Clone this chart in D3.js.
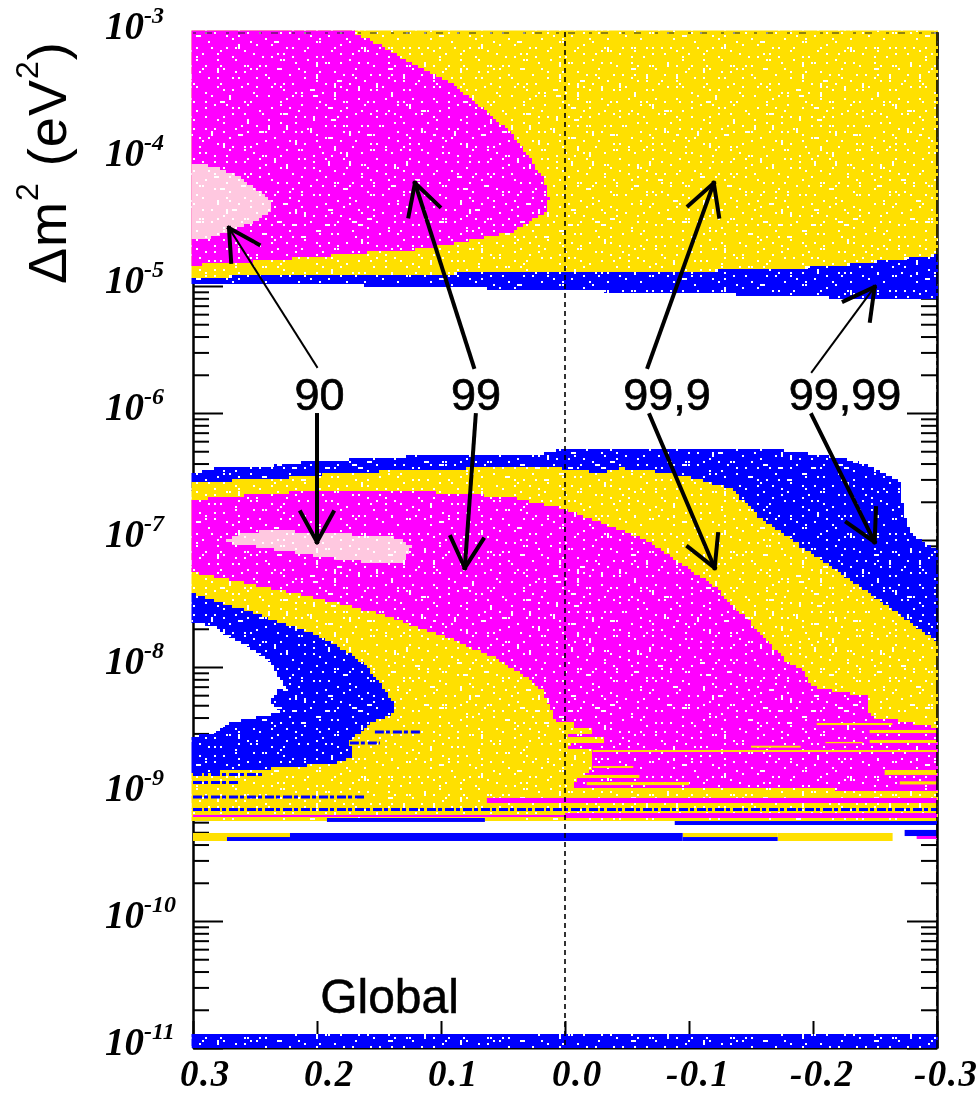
<!DOCTYPE html>
<html>
<head>
<meta charset="utf-8">
<script src="https://cdn.jsdelivr.net/npm/d3@7"></script>
<style>
body { margin: 0; background: #fff; }
svg { display: block; filter: blur(0.45px); }
</style>
</head>
<body>
<div id="chart"></div>
<script>
const width = 979;
const height = 1095;

// regions are [x value, log10(dm2)] outlines
const xTicks = [0.3, 0.2, 0.1, 0.0, -0.1, -0.2, -0.3];
const xTickLabels = ['0.3', '0.2', '0.1', '0.0', '-0.1', '-0.2', '-0.3'];
const yDecades = [-3, -4, -5, -6, -7, -8, -9, -10, -11];

const yellowUpper = [[0.3, -3], [-0.3, -3], [-0.3, -4.756], [-0.2642, -4.795], [-0.2239, -4.835], [-0.1618, -4.874],
  [0, -4.89], [0.3, -4.929]];
const blueUpper = [[0.3, -4.929], [0, -4.89], [-0.1618, -4.874], [-0.2239, -4.835], [-0.2642, -4.795], [-0.3, -4.756],
  [-0.3, -5.094], [-0.2239, -5.094], [-0.1586, -5.071], [-0.0442, -5.047], [0, -5.031], [0.1227, -5.008], [0.1735, -4.992], [0.3, -4.992]];
const magentaUpper = [[0.3, -3], [0.1735, -3], [0.1493, -3.102], [0.1227, -3.26], [0.0953, -3.394], [0.0687, -3.598],
  [0.0421, -3.827], [0.026, -4.031], [0.0163, -4.189], [0.0131, -4.323], [0.0147, -4.417], [0.0284, -4.504], [0.0445, -4.583],
  [0.0687, -4.622], [0.0953, -4.677], [0.1227, -4.717], [0.1654, -4.74], [0.2033, -4.772], [0.2565, -4.811], [0.3, -4.835]];
const pinkUpper = [[0.3, -4.031], [0.2807, -4.071], [0.2645, -4.142], [0.2484, -4.244], [0.2379, -4.339], [0.2379, -4.425],
  [0.25, -4.496], [0.2645, -4.543], [0.2807, -4.614], [0.3, -4.638]];

const blueMiddle = [[0.3, -6.472], [0.2839, -6.433], [0.2565, -6.433], [0.2194, -6.394], [0.1839, -6.37], [0.1388, -6.346],
  [0.0848, -6.323], [0.0203, -6.323], [0.0066, -6.291], [-0.1731, -6.291], [-0.2029, -6.331], [-0.2239, -6.362], [-0.2432, -6.409],
  [-0.2618, -6.504], [-0.2715, -6.567], [-0.2723, -6.764], [-0.2779, -6.945], [-0.2884, -7.016], [-0.3, -7.079], [-0.3, -7.827],
  [-0.15, -6.9], [-0.1086, -6.6], [0.3, -6.606]];
const yellowTop = [[0.3, -6.543], [0.2758, -6.551], [0.2678, -6.528], [0.2299, -6.512], [0.1815, -6.472], [0.1227, -6.449],
  [0.0687, -6.433], [0.0066, -6.433], [-0.028, -6.472], [-0.0442, -6.433], [-0.082, -6.472], [-0.1086, -6.528], [-0.1352, -6.606],
  [-0.1514, -6.787], [-0.1787, -6.976], [-0.2054, -7.157], [-0.232, -7.339], [-0.2642, -7.551], [-0.3, -7.811], [-0.3, -9.205], [0.3, -9.205]];
const notchOuter = [[0.3, -8.835], [0.2299, -8.795], [0.1872, -8.756], [0.171, -8.709], [0.1735, -8.575], [0.1573, -8.441],
  [0.1388, -8.362], [0.1388, -8.26], [0.1469, -8.157], [0.1598, -7.984], [0.1759, -7.866], [0.2033, -7.732], [0.2299, -7.646],
  [0.2565, -7.551], [0.2839, -7.472], [0.3, -7.417]];
const notchHole = [[0.3, -7.646], [0.2839, -7.685], [0.2565, -7.843], [0.2379, -7.969], [0.2299, -8.102], [0.2242, -8.181],
  [0.2299, -8.181], [0.2379, -8.283], [0.2299, -8.362], [0.2678, -8.441], [0.2839, -8.52], [0.3, -8.551]];
const magentaLower = [[0.3, -6.677], [0.2758, -6.669], [0.246, -6.63], [0.2033, -6.622], [0.1388, -6.614], [0.0953, -6.63],
  [0.0421, -6.669], [0.0066, -6.74], [-0.028, -6.866], [-0.0442, -6.921], [-0.0683, -7.016], [-0.0869, -7.157], [-0.1167, -7.339],
  [-0.1352, -7.528], [-0.1626, -7.787], [-0.1755, -7.945], [-0.1917, -8.024], [-0.1973, -8.157], [-0.2432, -8.236], [-0.2457, -8.394],
  [-0.2642, -8.417], [-0.3, -8.48], [-0.3, -8.969], [-0.0063, -8.953], [-0.0095, -8.866], [-0.0216, -8.811], [-0.0216, -8.654],
  [-0.0014, -8.654], [-0.0039, -8.606], [-0.0305, -8.606], [-0.0305, -8.559], [-0.0023, -8.559], [-0.0023, -8.52], [-0.0216, -8.52],
  [-0.0216, -8.48], [-0.0079, -8.48], [-0.0079, -8.441], [0.0066, -8.441], [0.0098, -8.362], [0.0179, -8.181], [0.0284, -8.087],
  [0.055, -7.921], [0.0953, -7.764], [0.1493, -7.575], [0.2033, -7.449], [0.2565, -7.339], [0.3, -7.252]];
const pinkLower = [[0.2782, -7.016], [0.2621, -6.945], [0.2355, -6.921], [0.2033, -6.945], [0.163, -6.961], [0.1356, -6.984],
  [0.1235, -7.063], [0.1307, -7.173], [0.1493, -7.181], [0.1896, -7.142], [0.2162, -7.102], [0.2565, -7.039]];
const blueBottom = [[0.3, -10.898], [0.1188, -10.898], [0.1188, -10.882], [-0.3, -10.882], [-0.3, -11], [0.3, -11]];

// thin horizontal bands: [x from, x to, log10 top, log10 bottom]
const yellowBands = [[0.3, 0.2218, -9.307, -9.37], [-0.0949, -0.1715, -9.307, -9.339], [-0.1715, -0.2642, -9.307, -9.37],
  [-0.0224, -0.3, -8.654, -8.669], [-0.203, -0.264, -8.441, -8.457], [-0.2457, -0.3, -8.496, -8.52], [-0.2457, -0.3, -8.575, -8.598],
  [-0.2578, -0.3, -8.811, -8.85], [-0.0224, -0.055, -8.78, -8.795], [-0.0095, -0.06, -8.85, -8.874], [-0.0175, -0.1, -8.906, -8.93],
  [-0.15, -0.19, -8.62, -8.635], [-0.21, -0.24, -8.59, -8.60], [-0.27, -0.3, -8.9, -8.925]];
const magentaBands = [[0.3, 0, -9.165, -9.181], [0, -0.3, -9.15, -9.189], [0.063, -0.3, -9.031, -9.071], [-0.2836, -0.3, -9.331, -9.354]];
const blueBands = [[0.2726, 0.2218, -9.339, -9.37], [0.2218, -0.0949, -9.307, -9.37], [-0.0949, -0.1715, -9.339, -9.37],
  [-0.2739, -0.3, -9.283, -9.331], [0.192, 0.0646, -9.189, -9.22], [-0.0885, -0.3, -9.213, -9.244]];
const blueDashes = [[0.3, -0.3, -9.122], [0.3, 0.1614, -9.024], [0.3, 0.2436, -8.846], [0.3, 0.2621, -8.91],
  [0.1533, 0.117, -8.512], [0.1735, 0.1493, -8.598]];

// arrows: [x tail, log10 tail, x tip, log10 tip]
const thinArrows = [[0.2, -5.638, 0.271, -4.543], [-0.199, -5.677, -0.2497, -5.008]];
const thickArrows = [[0.2, -6.016, 0.2, -7.016], [0.0735, -5.638, 0.121, -4.189], [0.072, -6.016, 0.0808, -7.22],
  [-0.0667, -5.638, -0.12, -4.189], [-0.0683, -6.016, -0.1207, -7.22], [-0.199, -6.016, -0.2497, -7.016]];
const clLabels = ['90', '99', '99,9', '99,99'];
const clLabelX = [0.198, 0.0718, -0.0822, -0.2258];
const clLabelLog = -5.98;

const x = d3.scaleLinear().domain([0.3, -0.3]).range([193, 937]);
const y = d3.scaleLog().domain([1e-11, 1e-3]).range([1048, 32]);

const svg = d3.select('#chart').append('svg')
  .attr('width', width)
  .attr('height', height);

const pxLine = d3.line();

// speckle tile: one dot per 9px cell, moved inside the cell by a fixed Weyl sequence
const tile = 243;
const pattern = svg.append('defs').append('pattern')
  .attr('id', 'speckle')
  .attr('patternUnits', 'userSpaceOnUse')
  .attr('x', 193)
  .attr('y', 32)
  .attr('width', tile)
  .attr('height', tile);
d3.range(27 * 27).forEach(i => {
  const n = i + 1;
  const u = (n * n * 0.6180339887) % 1;
  const v = (n * n * n * 0.4142135624) % 1;
  const w = (n * 0.7548776662 + n * n * 0.2718281828) % 1;
  pattern.append('rect')
    .attr('x', (i % 27) * 9 + Math.floor(u * 3) * 3)
    .attr('y', Math.floor(i / 27) * 9 + Math.floor(v * 3) * 3)
    .attr('width', w < 0.07 ? 5 : 2)
    .attr('height', w > 0.93 ? 5 : 2)
    .attr('fill', '#fff');
});

// axes go first, the coloured scatter sits on top of them
const minorTicks = [];
yDecades.slice(0, -1).forEach(e => {
  d3.range(2, 10).forEach(m => minorTicks.push(m * 10 ** (e - 1)));
});
const majorTicks = yDecades.map(e => 10 ** e);

const axisG = svg.append('g').attr('class', 'axes');
[[d3.axisLeft, 193], [d3.axisRight, 937]].forEach(([axis, px]) => {
  axisG.append('g').attr('transform', `translate(${px},0)`)
    .call(axis(y).tickValues(minorTicks).tickSize(-16).tickSizeOuter(0).tickFormat(''));
  axisG.append('g').attr('transform', `translate(${px},0)`)
    .call(axis(y).tickValues(majorTicks).tickSize(-30).tickSizeOuter(0).tickFormat(''));
});
[[d3.axisBottom, 1048], [d3.axisTop, 32]].forEach(([axis, py]) => {
  axisG.append('g').attr('transform', `translate(0,${py})`)
    .call(axis(x).tickValues(xTicks).tickSize(-27).tickSizeOuter(0).tickFormat(''));
});
axisG.selectAll('path.domain').attr('stroke', '#000').attr('stroke-width', 2);
axisG.selectAll('line').attr('stroke', '#000').attr('stroke-width', 2);

// walk an outline through the scales and step it on the 3px scan grid,
// letting it run just over the frame so the colour hides the axis lines
function stepped(points) {
  const snapX = v => {
    const s = 193 + Math.round((v - 193) / 3) * 3;
    return s <= 193 ? 191.5 : s >= 937 ? 938 : s;
  };
  const snapY = v => {
    const s = 32 + Math.round((v - 32) / 3) * 3;
    return s <= 32 ? 30.5 : Math.min(1048, s);
  };
  const px = points.map(d => [x(d[0]), y(10 ** d[1])]);
  const out = [];
  px.forEach((p, i) => {
    const q = px[(i + 1) % px.length];
    const n = Math.max(1, Math.ceil(Math.max(Math.abs(q[0] - p[0]), Math.abs(q[1] - p[1])) / 3));
    d3.range(n).forEach(k => {
      const nx = snapX(p[0] + (q[0] - p[0]) * k / n);
      const ny = snapY(p[1] + (q[1] - p[1]) * k / n);
      if (out.length) out.push([nx, out[out.length - 1][1]]);
      out.push([nx, ny]);
    });
  });
  return pxLine(out) + 'Z';
}

function region(points, color) {
  const d = stepped(points);
  svg.append('path').attr('d', d).attr('fill', color);
  svg.append('path').attr('d', d).attr('fill', 'url(#speckle)');
}

function bands(rows, color) {
  svg.append('g').selectAll('rect')
    .data(rows)
    .join('rect')
    .attr('x', d => x(d[0]))
    .attr('width', d => x(d[1]) - x(d[0]))
    .attr('y', d => y(10 ** d[2]))
    .attr('height', d => y(10 ** d[3]) - y(10 ** d[2]))
    .attr('fill', color);
}

const blue = '#0000ff';
const yellow = '#ffe000';
const magenta = '#ff00ff';
const pink = '#ffc8e0';

region(yellowUpper, yellow);
region(blueUpper, blue);
region(magentaUpper, magenta);
region(pinkUpper, pink);
region(blueMiddle, blue);
region(notchOuter.concat(notchHole), blue);
region(yellowTop.concat(notchOuter), yellow);
region(magentaLower, magenta);
region(pinkLower, pink);
bands(yellowBands, yellow);
bands(magentaBands, magenta);
bands(blueBands, blue);
svg.append('g').selectAll('line')
  .data(blueDashes)
  .join('line')
  .attr('x1', d => x(d[0]))
  .attr('x2', d => x(d[1]))
  .attr('y1', d => y(10 ** d[2]))
  .attr('y2', d => y(10 ** d[2]))
  .attr('stroke', blue)
  .attr('stroke-width', 3)
  .attr('stroke-dasharray', '9 2 4 3');
region(blueBottom, blue);

// zero line and the frame edges that show through the scatter
svg.append('line')
  .attr('x1', x(0)).attr('x2', x(0))
  .attr('y1', 32).attr('y2', 1048)
  .attr('stroke', '#000')
  .attr('stroke-width', 1.6)
  .attr('stroke-dasharray', '5 4');
svg.append('line')
  .attr('x1', 937).attr('x2', 937)
  .attr('y1', 32).attr('y2', 1048)
  .attr('stroke', '#000')
  .attr('stroke-width', 1.6)
  .attr('stroke-dasharray', '14 3 4 3');
svg.append('line')
  .attr('x1', 193).attr('x2', 937)
  .attr('y1', 33).attr('y2', 33)
  .attr('stroke', '#222')
  .attr('stroke-width', 1.2)
  .attr('stroke-dasharray', '3 9 7 14');

function arrow(rows, weight) {
  const g = svg.append('g')
    .attr('stroke', '#000')
    .attr('fill', 'none')
    .attr('stroke-linecap', 'square');
  rows.forEach(r => {
    const x0 = x(r[0]), y0 = y(10 ** r[1]), x1 = x(r[2]), y1 = y(10 ** r[3]);
    const a = Math.atan2(y0 - y1, x0 - x1);
    g.append('line').attr('x1', x0).attr('y1', y0).attr('x2', x1).attr('y2', y1).attr('stroke-width', weight);
    [-0.5, 0.5].forEach(da => {
      g.append('line')
        .attr('x1', x1).attr('y1', y1)
        .attr('x2', x1 + 34 * Math.cos(a + da))
        .attr('y2', y1 + 34 * Math.sin(a + da))
        .attr('stroke-width', 4);
    });
  });
}
arrow(thinArrows, 2);
arrow(thickArrows, 4);

svg.append('g').selectAll('text')
  .data(clLabels)
  .join('text')
  .attr('x', (d, i) => x(clLabelX[i]))
  .attr('y', y(10 ** clLabelLog))
  .attr('text-anchor', 'middle')
  .attr('font-family', '"Liberation Sans", sans-serif')
  .attr('font-size', 45)
  .attr('fill', '#000')
  .attr('stroke', '#000')
  .attr('stroke-width', 0.7)
  .text(d => d);

svg.append('text')
  .attr('x', x(0.1415))
  .attr('y', 1013)
  .attr('text-anchor', 'middle')
  .attr('font-family', '"Liberation Sans", sans-serif')
  .attr('font-size', 48)
  .attr('stroke', '#000')
  .attr('stroke-width', 0.5)
  .text('Global');

// tick labels, bold italic serif as in the original
svg.append('g').selectAll('text')
  .data(xTicks)
  .join('text')
  .attr('x', d => x(d) + (d >= 0 ? -13 : -23))
  .attr('y', 1086)
  .attr('font-family', '"Liberation Serif", serif')
  .attr('font-weight', 'bold')
  .attr('font-style', 'italic')
  .attr('font-size', 37)
  .attr('letter-spacing', 1.5)
  .text((d, i) => xTickLabels[i]);

const yLabels = svg.append('g').selectAll('text')
  .data(yDecades)
  .join('text')
  .attr('x', 105)
  .attr('y', d => y(10 ** d) + 7)
  .attr('font-family', '"Liberation Serif", serif')
  .attr('font-weight', 'bold')
  .attr('font-style', 'italic')
  .attr('font-size', 39);
yLabels.append('tspan').text('10');
yLabels.append('tspan')
  .attr('dy', -16)
  .attr('font-size', 24)
  .text(d => String(d));

const title = svg.append('text')
  .attr('transform', 'translate(66,284) rotate(-90)')
  .attr('font-family', '"Liberation Sans", sans-serif')
  .attr('font-size', 54)
  .attr('letter-spacing', 1);
title.append('tspan').text('\u0394m');
title.append('tspan').attr('dy', -28).attr('font-size', 32).text('2');
title.append('tspan').attr('dy', 28).text(' (eV');
title.append('tspan').attr('dy', -28).attr('font-size', 32).text('2');
title.append('tspan').attr('dy', 28).text(')');
</script>
</body>
</html>
